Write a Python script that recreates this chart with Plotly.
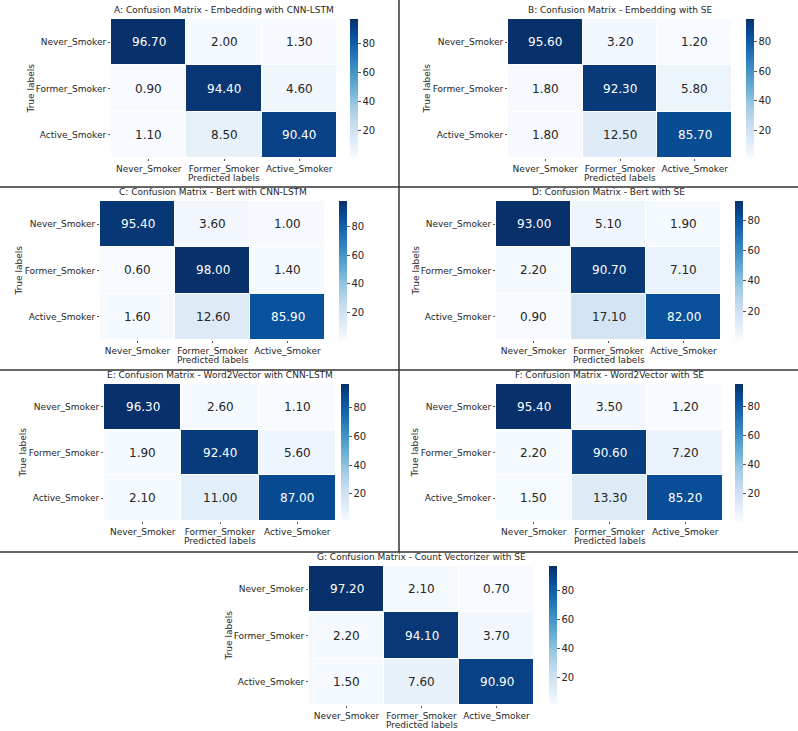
import plotly.graph_objects as go

classes = ['Never_Smoker', 'Former_Smoker', 'Active_Smoker']

titles = [
    'A: Confusion Matrix - Embedding with CNN-LSTM',
    'B: Confusion Matrix - Embedding with SE',
    'C: Confusion Matrix - Bert with CNN-LSTM',
    'D: Confusion Matrix - Bert with SE',
    'E: Confusion Matrix - Word2Vector with CNN-LSTM',
    'F: Confusion Matrix - Word2Vector with SE',
    'G: Confusion Matrix - Count Vectorizer with SE',
]

cm_a = [[96.7, 2.0, 1.3], [0.9, 94.4, 4.6], [1.1, 8.5, 90.4]]
cm_b = [[95.6, 3.2, 1.2], [1.8, 92.3, 5.8], [1.8, 12.5, 85.7]]
cm_c = [[95.4, 3.6, 1.0], [0.6, 98.0, 1.4], [1.6, 12.6, 85.9]]
cm_d = [[93.0, 5.1, 1.9], [2.2, 90.7, 7.1], [0.9, 17.1, 82.0]]
cm_e = [[96.3, 2.6, 1.1], [1.9, 92.4, 5.6], [2.1, 11.0, 87.0]]
cm_f = [[95.4, 3.5, 1.2], [2.2, 90.6, 7.2], [1.5, 13.3, 85.2]]
cm_g = [[97.2, 2.1, 0.7], [2.2, 94.1, 3.7], [1.5, 7.6, 90.9]]

matrices = [cm_a, cm_b, cm_c, cm_d, cm_e, cm_f, cm_g]

# matplotlib "Blues"
blues = ['#f7fbff', '#deebf7', '#c6dbef', '#9ecae1', '#6baed6',
         '#4292c6', '#2171b5', '#08519c', '#08306b']
colorscale = [[i / (len(blues) - 1), c] for i, c in enumerate(blues)]

W, H = 798, 731
FONT = 'DejaVu Sans'
DARK = '#262626'

# pixel boxes: cells x0, x1, y0, y1, colorbar left, "True labels" x
boxes = [
    (111, 337, 19, 158, 350, 30),
    (508, 732, 19, 158, 746, 426),
    (100, 325, 201, 340, 339, 18),
    (496, 721, 201, 340, 735, 415),
    (104, 336, 384, 521, 341, 23),
    (496, 723, 384, 521, 735, 415),
    (309, 534, 566, 705, 549, 228),
]

fig = go.Figure()
annotations = []
layout = {}

for k, (cm, title, box) in enumerate(zip(matrices, titles, boxes)):
    n = k + 1
    sfx = '' if n == 1 else str(n)
    x0, x1, y0, y1, cbx, ylx = box
    flat = [v for row in cm for v in row]
    zmin, zmax = min(flat), max(flat)

    fig.add_trace(go.Heatmap(
        z=cm, x=classes, y=classes,
        coloraxis='coloraxis' + sfx,
        xaxis='x' + sfx, yaxis='y' + sfx,
        xgap=1, ygap=1,
    ))

    layout['xaxis' + sfx] = dict(
        domain=[x0 / W, x1 / W], anchor='y' + sfx,
        showgrid=False, zeroline=False, showline=False,
        ticks='outside', ticklen=2, tickcolor='#555',
        tickfont=dict(size=9, color=DARK, family=FONT),
    )
    layout['yaxis' + sfx] = dict(
        domain=[1 - y1 / H, 1 - y0 / H], anchor='x' + sfx,
        autorange='reversed',
        showgrid=False, zeroline=False, showline=False,
        ticks='outside', ticklen=2, tickcolor='#555',
        tickfont=dict(size=9, color=DARK, family=FONT),
    )
    layout['coloraxis' + sfx] = dict(
        colorscale=colorscale, cmin=zmin, cmax=zmax,
        colorbar=dict(
            x=cbx / W, xanchor='left', xpad=0,
            y=1 - (y0 + y1) / 2 / H, yanchor='middle', ypad=0,
            len=y1 - y0, lenmode='pixels',
            thickness=8, outlinewidth=0,
            tickvals=[20, 40, 60, 80],
            ticks='outside', ticklen=3, tickcolor='#555',
            tickfont=dict(size=10, color=DARK, family=FONT),
        ),
    )

    cx = (x0 + x1) / 2 / W
    annotations.append(dict(
        text=title, xref='paper', yref='paper', x=cx, y=1 - (y0 - 2) / H,
        xanchor='center', yanchor='bottom', showarrow=False,
        font=dict(size=9, color=DARK, family=FONT),
    ))
    annotations.append(dict(
        text='Predicted labels', xref='paper', yref='paper',
        x=cx, y=1 - (y1 + 20) / H, xanchor='center', yanchor='middle',
        showarrow=False, font=dict(size=9, color=DARK, family=FONT),
    ))
    annotations.append(dict(
        text='True labels', xref='paper', yref='paper', textangle=-90,
        x=ylx / W, y=1 - (y0 + y1) / 2 / H, xanchor='center', yanchor='middle',
        showarrow=False, font=dict(size=9, color=DARK, family=FONT),
    ))

    for i, row in enumerate(cm):
        for j, v in enumerate(row):
            frac = (v - zmin) / (zmax - zmin)
            annotations.append(dict(
                text=f'{v:.2f}', x=classes[j], y=classes[i],
                xref='x' + sfx, yref='y' + sfx, showarrow=False,
                font=dict(size=12, family=FONT,
                          color='white' if frac > 0.5 else DARK),
            ))

line = dict(color='#333333', width=1.5)
shapes = [
    dict(type='line', xref='paper', yref='paper', x0=0, x1=1,
         y0=1 - yy / H, y1=1 - yy / H, line=line)
    for yy in (187, 370, 552)
]
shapes.append(dict(type='line', xref='paper', yref='paper',
                   x0=399 / W, x1=399 / W, y0=1, y1=1 - 552 / H, line=line))

fig.update_layout(
    width=W, height=H,
    margin=dict(l=0, r=0, t=0, b=0),
    paper_bgcolor='white', plot_bgcolor='white',
    font=dict(family=FONT, color=DARK),
    annotations=annotations, shapes=shapes,
    **layout,
)

fig.write_html('out.html', config={'displayModeBar': False},
               post_script="document.body.style.margin='0';")
